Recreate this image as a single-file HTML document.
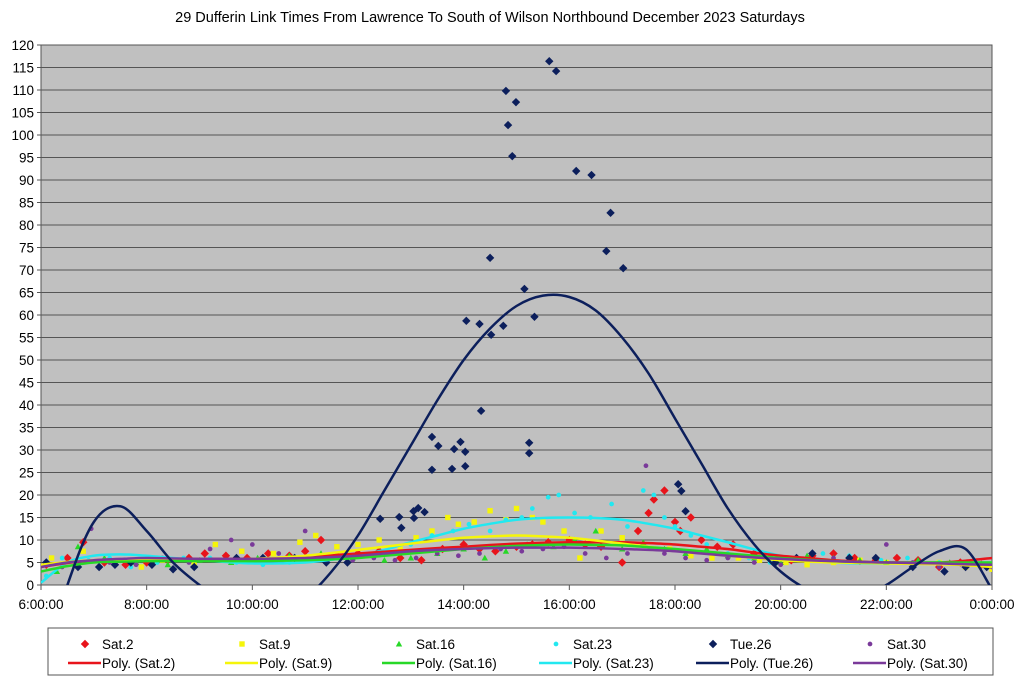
<!DOCTYPE html>
<html><head><meta charset="utf-8">
<style>
body{margin:0;background:#fff;width:1024px;height:679px;overflow:hidden;font-family:"Liberation Sans",Arial,sans-serif}
svg text{font-family:"Liberation Sans",Arial,sans-serif}
</style></head>
<body>
<svg id="chart" width="1024" height="679" viewBox="0 0 1024 679" xmlns="http://www.w3.org/2000/svg">
<text x="490" y="22" text-anchor="middle" font-size="14.5" fill="#000">29 Dufferin Link Times From Lawrence To South of Wilson Northbound December 2023  Saturdays</text>
<defs><clipPath id="pc"><rect x="41" y="45" width="951" height="540"/></clipPath></defs>
<rect x="41" y="45" width="951" height="540" fill="#c0c0c0" stroke="#555" stroke-width="1"/>
<g id="grid"></g>
<g id="yaxis"></g>
<g id="xaxis"></g>
<g id="points" clip-path="url(#pc)"></g>
<g id="trends" clip-path="url(#pc)"></g>
<g id="legend">
<rect x="48" y="628" width="945" height="47" fill="#fff" stroke="#555"/>
</g>
</svg>
<script>
const yTicks=[0,5,10,15,20,25,30,35,40,45,50,55,60,65,70,75,80,85,90,95,100,105,110,115,120];
const xTicks=[6,8,10,12,14,16,18,20,22,24];
const xTickLabels=["6:00:00","8:00:00","10:00:00","12:00:00","14:00:00","16:00:00","18:00:00","20:00:00","22:00:00","0:00:00"];
const seriesNames=["Sat.2","Sat.9","Sat.16","Sat.23","Tue.26","Sat.30"];
const seriesColors=["#e8141b","#f5f50a","#27d827","#22e8f0","#0c1f5c","#7a3a9a"];
const sat2H=[6.1,6.5,6.8,7.2,7.6,8.0,8.4,8.8,9.1,9.5,9.9,10.3,10.7,11.0,11.3,11.6,12.0,12.4,12.8,13.2,13.6,14.0,14.3,14.6,15.0,15.3,15.6,16.0,16.3,16.6,17.0,17.3,17.5,17.6,17.8,18.0,18.1,18.3,18.5,18.8,19.1,19.5,19.8,20.2,20.6,21.0,21.4,21.8,22.2,22.6,23.0,23.4,23.8];
const sat2V=[4.5,6,9.5,5,4.5,5,5.5,6,7,6.5,6,7,6.5,7.5,10,6.5,7,7.5,6,5.5,8,9,8,7.5,8.5,9,9.5,10,9,8.5,5,12,16,19,21,14,12,15,10,8.5,9,7,6,5.5,6.5,7,6,5.5,6,5.5,4,5,4.5];
const sat9H=[6.2,6.8,7.4,7.9,8.3,8.9,9.3,9.8,10.4,10.9,11.2,11.6,12.0,12.4,12.8,13.1,13.4,13.7,13.9,14.2,14.5,14.8,15.0,15.3,15.5,15.9,16.2,16.6,17.0,17.4,17.9,18.3,18.7,19.2,19.6,20.1,20.5,21.0,21.5,22.0,22.5,23.0,23.5,24.0];
const sat9V=[6,7.5,5,4,5.5,5,9,7.5,7,9.5,11,8.5,9,10,8,10.5,12,15,13.5,14,16.5,14.5,17,15,14,12,6,12,10.5,9,8,6.5,6,6,5.5,5,4.5,5,5.5,5,4.5,5,4,3.5];
const sat16H=[6.3,6.7,7.2,7.8,8.4,9.0,9.6,10.1,10.7,11.3,11.9,12.5,13.0,13.5,14.0,14.4,14.8,15.2,15.7,16.1,16.5,17.0,17.4,17.8,18.2,18.6,19.0,19.5,20.0,20.5,21.0,21.5,22.0,22.6,23.2,23.8];
const sat16V=[3,8.5,6,5,4.5,5.5,5,6,6.5,7,6,5.5,6,7,8,6,7.5,9,8.5,10,12,8,9.5,8,7,8,6.5,6,5,6.5,6,5.5,5,5.5,5,4.5];
const sat23H=[6.1,6.4,6.9,7.3,7.7,8.2,8.7,9.2,9.7,10.2,10.7,11.1,11.6,12.1,12.6,13.0,13.4,13.8,14.1,14.5,14.8,15.1,15.3,15.6,15.8,16.1,16.4,16.8,17.1,17.4,17.6,17.8,18.0,18.3,18.6,19.0,19.4,19.8,20.3,20.8,21.3,21.9,22.4,23.0,23.6];
const sat23V=[2,6,5.5,6,4,5,6,6,5,4.5,5,5.5,6,6.5,7,9,11,12,13.5,12,14.5,15,17,19.5,20,16,15,18,13,21,20,15,13,11,9,7,6,5,6,7,6.5,5.5,6,5,5];
const tue26H=[6.1,6.7,7.1,7.4,7.7,8.1,8.5,8.9,9.7,10.2,10.8,11.4,11.8,12.42,12.78,12.82,13.06,13.14,13.05,13.26,13.4,13.52,13.82,13.94,14.03,14.03,13.78,13.4,14.05,14.3,14.33,14.5,14.52,14.75,14.8,14.84,14.92,14.99,15.15,15.24,15.24,15.34,15.62,15.75,16.13,16.42,16.7,16.78,17.02,18.06,18.12,18.2,19.9,20.3,20.6,21.3,21.8,22.5,23.1,23.5,23.9];
const tue26V=[5,4,4,4.5,5,4.5,3.5,4,6,6,6,5,5,14.7,15.1,12.7,14.9,17.1,16.4,16.2,32.9,30.9,30.2,31.8,29.6,26.4,25.8,25.6,58.7,58,38.7,72.7,55.6,57.6,109.8,102.2,95.3,107.3,65.8,31.6,29.3,59.6,116.4,114.2,92,91.1,74.2,82.7,70.4,22.4,20.9,16.4,5,6,7,6,6,4,3,4,4];
const sat30H=[6.4,6.95,7.3,7.8,8.3,8.8,9.2,9.6,10.0,10.5,11.0,11.4,11.9,12.3,12.7,13.1,13.5,13.9,14.3,14.7,15.1,15.5,15.9,16.3,16.7,17.1,17.45,17.8,18.2,18.6,19.0,19.5,20.0,20.5,21.0,21.5,22.0,22.5,23.0,23.5,24.0];
const sat30V=[4,12.5,5,4.5,6,5,8,10,9,7,12,6,5.5,6,5.5,6,7,6.5,7,8,7.5,8,8.5,7,6,7,26.5,7,6,5.5,6,5,4.5,5.5,6,5,9,5,4,5,4];
const trendH=[6,6.5,7,7.5,8,8.5,9,9.5,10,10.5,11,11.5,12,12.5,13,13.5,14,14.5,15,15.5,16,16.5,17,17.5,18,18.5,19,19.5,20,20.5,21,21.5,22,22.5,23,23.5,24];
const trendSat2=[4,4.9,5.5,5.7,5.8,5.8,5.8,5.8,5.8,6,6.3,6.6,7,7.4,7.8,8.2,8.5,8.9,9.2,9.4,9.5,9.5,9.5,9.3,9,8.5,8,7.2,6.5,6,5.5,5.2,5,5,5,5.4,6];
const trendSat9=[4.5,5.1,5.5,5.6,5.5,5.5,5.5,5.6,5.8,6.1,6.5,7.1,7.8,8.5,9.2,9.9,10.5,10.8,11,10.8,10.5,9.9,9.2,8.5,7.8,7.1,6.5,6,5.5,5.2,5,4.9,4.8,4.7,4.6,4.4,4];
const trendSat16=[3,4.2,5,5.2,5.3,5.3,5.3,5.3,5.3,5.4,5.5,5.7,6,6.5,7,7.5,8,8.4,8.7,8.9,9,8.9,8.8,8.4,8,7.5,7,6.5,6,5.6,5.3,5.1,5,5,5,5,5];
const trendSat23=[0.5,5,6.5,6.8,6.5,6,5.5,5.1,4.8,4.8,5,5.6,6.5,7.8,9.5,11,12.5,13.6,14.5,14.9,15,14.9,14.5,13.6,12.5,11,9.5,7.9,6.5,5.6,5,4.8,4.8,4.9,5,5,5];
const trendTue26=[-20,0,14,17.5,12,5,0,-4,-6,-6,-3,3,11,21,31,41,50,57,62,64.3,64,61,55,47,37,27,17,9,3,-1,-3.5,-3,0,4,7.5,8,-1];
const trendSat30=[4,5,5.5,5.8,6,5.9,5.8,5.8,5.8,5.9,6,6.2,6.5,7,7.5,7.8,8,8.2,8.3,8.3,8.3,8.2,8,7.8,7.5,7,6.5,6.1,5.8,5.5,5.3,5.1,5,4.9,4.8,4.6,4.5];

const X0=41,X1=992,Y0=585,Y1=45;
function xs(h){return X0+(h-6)/18*(X1-X0);}
function ys(v){return Y0-v/120*(Y0-Y1);}
const NS="http://www.w3.org/2000/svg";
function mk(t,a,p){const e=document.createElementNS(NS,t);for(const k in a)e.setAttribute(k,a[k]);p.appendChild(e);return e;}

const grid=document.getElementById('grid'),ya=document.getElementById('yaxis'),xa=document.getElementById('xaxis');
yTicks.forEach(v=>{
  if(v>0&&v<120){const l=mk('line',{x1:X0,x2:X1,y1:ys(v),y2:ys(v),stroke:'#555','stroke-width':1},grid);
  
  }
  mk('line',{x1:X0-4,x2:X0,y1:ys(v),y2:ys(v),stroke:'#555'},ya);
  const t=mk('text',{x:X0-7,y:ys(v)+5,'text-anchor':'end','font-size':13.5,fill:'#000'},ya);
  t.textContent=v;
  
  
});
xTicks.forEach((h,i)=>{
  mk('line',{x1:xs(h),x2:xs(h),y1:Y0,y2:Y0+5,stroke:'#555'},xa);
  const t=mk('text',{x:xs(h),y:Y0+24,'text-anchor':'middle','font-size':13.5,fill:'#000'},xa);
  t.textContent=xTickLabels[i];
  
  
});

function marker(kind,cx,cy,col,p,s){
  let e;
  if(kind==='diamond')e=mk('polygon',{points:`${cx},${cy-s} ${cx+s},${cy} ${cx},${cy+s} ${cx-s},${cy}`,fill:col},p);
  else if(kind==='square')e=mk('rect',{x:cx-s*0.75,y:cy-s*0.75,width:s*1.5,height:s*1.5,fill:col},p);
  else if(kind==='triangle')e=mk('polygon',{points:`${cx},${cy-s} ${cx+s},${cy+s*0.8} ${cx-s},${cy+s*0.8}`,fill:col},p);
  else e=mk('circle',{cx:cx,cy:cy,r:s*0.7,fill:col},p);
  return e;
}
const kinds=["diamond","square","triangle","circle","diamond","circle"];
const sizes=[4.2,3.6,3.2,3.4,4.2,3.4];
const ptsH=[sat2H,sat9H,sat16H,sat23H,tue26H,sat30H];
const ptsV=[sat2V,sat9V,sat16V,sat23V,tue26V,sat30V];
const pg=document.getElementById('points');
ptsH.forEach((H,si)=>{
  H.forEach((h,i)=>{
    const m=marker(kinds[si],xs(h),ys(ptsV[si][i]),seriesColors[si],pg,sizes[si]);
    
    
  });
});
function smooth(H,V){
  const P=H.map((h,i)=>[xs(h),ys(V[i])]);
  let d=`M${P[0][0]},${P[0][1]}`;
  for(let i=0;i<P.length-1;i++){
    const p0=P[Math.max(0,i-1)],p1=P[i],p2=P[i+1],p3=P[Math.min(P.length-1,i+2)];
    const c1=[p1[0]+(p2[0]-p0[0])/6,p1[1]+(p2[1]-p0[1])/6];
    const c2=[p2[0]-(p3[0]-p1[0])/6,p2[1]-(p3[1]-p1[1])/6];
    d+=` C${c1[0]},${c1[1]} ${c2[0]},${c2[1]} ${p2[0]},${p2[1]}`;
  }
  return d;
}
const trends=[trendSat2,trendSat9,trendSat16,trendSat23,trendTue26,trendSat30];
const tg=document.getElementById('trends');
[3,0,1,2,5,4].forEach(si=>{
  const p=mk('path',{d:smooth(trendH,trends[si]),fill:'none',stroke:seriesColors[si],'stroke-width':2.5},tg);
  
  
});
const lg=document.getElementById('legend');
const colX=[68,225,382,539,696,853];
seriesNames.forEach((n,i)=>{
  const m=marker(kinds[i],colX[i]+17,644,seriesColors[i],lg,sizes[i]);
  
  
  const t=mk('text',{x:colX[i]+34,y:649,'font-size':13.5,fill:'#000'},lg);
  t.textContent=n;
  
  
  const l=mk('line',{x1:colX[i],x2:colX[i]+33,y1:663,y2:663,stroke:seriesColors[i],'stroke-width':2.5},lg);
  
  
  const t2=mk('text',{x:colX[i]+34,y:668,'font-size':13.5,fill:'#000'},lg);
  t2.textContent='Poly. ('+n+')';
  
  
});
</script>
</body></html>
